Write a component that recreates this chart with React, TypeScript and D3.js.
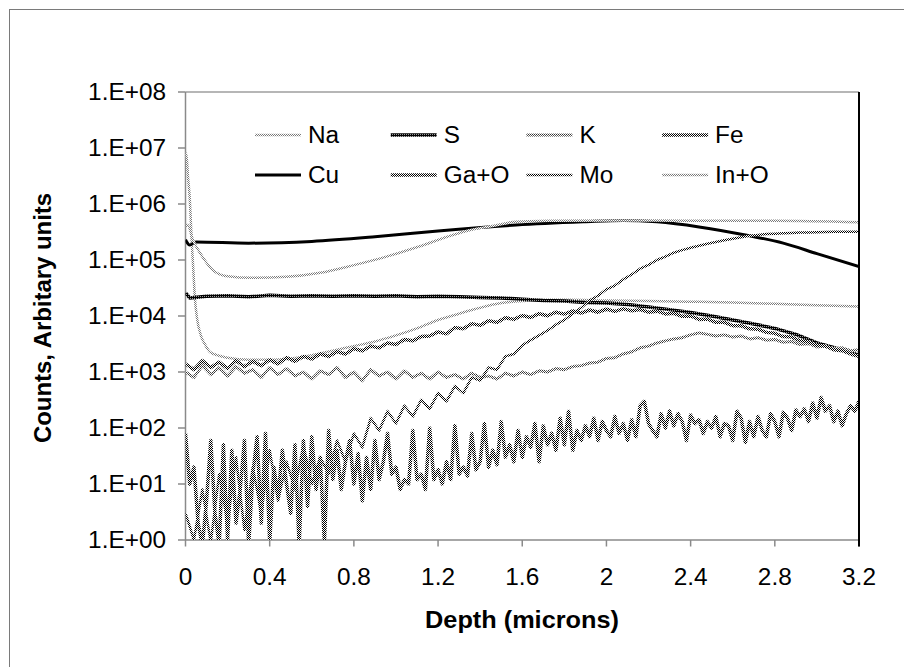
import React from 'react';
import * as d3 from 'd3';

// ---------- data ----------
const seriesNames = ['Na', 'S', 'K', 'Fe', 'Cu', 'Ga+O', 'Mo', 'In+O'];
const yTickValues = [1, 1e1, 1e2, 1e3, 1e4, 1e5, 1e6, 1e7, 1e8];
const yTickLabels = ['1.E+00', '1.E+01', '1.E+02', '1.E+03', '1.E+04', '1.E+05', '1.E+06', '1.E+07', '1.E+08'];
const xTickValues = [0, 0.4, 0.8, 1.2, 1.6, 2, 2.4, 2.8, 3.2];
const xTickLabels = ['0', '0.4', '0.8', '1.2', '1.6', '2', '2.4', '2.8', '3.2'];

const naDepth = [0, 0.004, 0.012, 0.02, 0.03, 0.036, 0.045, 0.055, 0.075, 0.095, 0.115, 0.15, 0.2, 0.3, 0.4, 0.5, 0.6, 0.7, 0.8, 0.9, 1.0, 1.1, 1.2, 1.3, 1.4, 1.5, 1.6, 1.7, 1.8, 2.0, 2.2, 2.4, 2.6, 2.8, 3.0, 3.2];
const naCounts = [7000000, 8000000, 3000000, 1300000, 200000, 80000, 20000, 9000, 4300, 3000, 2300, 2000, 1800, 1650, 1650, 1750, 2000, 2400, 2900, 3500, 4500, 6000, 8500, 11000, 14000, 17000, 18500, 19500, 19500, 19000, 18500, 18000, 17500, 16500, 15500, 14800];

const sDepth = [0, 0.02, 0.1, 0.2, 0.3, 0.4, 0.5, 0.6, 0.7, 0.8, 0.9, 1.0, 1.1, 1.2, 1.3, 1.4, 1.5, 1.6, 1.7, 1.8, 1.9, 2.0, 2.1, 2.2, 2.3, 2.4, 2.5, 2.6, 2.7, 2.8, 2.9, 3.0, 3.1, 3.2];
const sCounts = [26000, 21000, 22500, 23000, 22000, 23500, 22500, 23000, 22500, 23000, 22500, 23000, 22000, 22500, 22000, 21500, 21000, 20000, 19000, 18500, 17500, 17000, 16000, 14500, 13000, 11500, 10000, 8500, 7200, 6000, 4700, 3300, 2600, 2000];

const kStep = 0.04;
const kCounts = [
  1000, 800, 1300, 900, 1200, 850, 1250, 950, 1100, 800,
  1200, 900, 1150, 850, 1000, 750, 1050, 900, 1200, 800,
  1000, 700, 1100, 850, 1000, 750, 1050, 800, 950, 750,
  1000, 800, 900, 750, 950, 800, 850, 750, 950, 850,
  1000, 900, 1050, 1000, 1150, 1100, 1250, 1300, 1450, 1500,
  1750, 1800, 2100, 2300, 2700, 2900, 3300, 3600, 3900, 4100,
  4600, 5000, 4700, 4400, 4600, 4200, 4400, 3900, 4100, 3700,
  3800, 3400, 3500, 3100, 3200, 2800, 2900, 2600, 2700, 2400,
  2500,
];

const feStep = 0.02;
const feCounts = [
  80, 10, 20, 2, 0.8, 5, 60, 3, 0.8, 50,
  1, 40, 2, 8, 60, 0.8, 15, 70, 2, 80,
  0.9, 20, 6, 40, 10, 3, 50, 0.8, 60, 4,
  70, 8, 30, 0.9, 90, 12, 40, 8, 25, 60,
  10, 35, 5, 30, 8, 60, 12, 25, 80, 15,
  20, 8, 12, 10, 90, 12, 15, 8, 100, 12,
  18, 10, 25, 12, 110, 15, 20, 14, 80, 18,
  25, 120, 20, 40, 22, 130, 30, 50, 25, 90,
  30, 70, 45, 120, 25, 110, 50, 80, 40, 150,
  50, 200, 40, 90, 60, 110, 70, 150, 60, 130,
  90, 70, 160, 80, 120, 60, 140, 70, 250, 300,
  120, 90, 70, 180, 100, 200, 110, 180, 130, 60,
  170, 120, 140, 80, 130, 100, 160, 70, 120, 110,
  60, 200, 150, 55, 130, 70, 160, 90, 70, 180,
  130, 70, 190, 150, 90, 210, 160, 220, 130, 280,
  150, 350, 200, 250, 130, 200, 110, 180, 250, 200,
  300,
];

const cuDepth = [0, 0.02, 0.05, 0.3, 0.6, 0.9, 1.2, 1.57, 1.89, 2.08, 2.24, 2.44, 2.68, 2.84, 3.0, 3.2];
const cuCounts = [230000, 185000, 210000, 200000, 215000, 260000, 330000, 420000, 480000, 510000, 480000, 390000, 270000, 200000, 130000, 76000];

const gaStep = 0.04;
const gaCounts = [
  1400, 1100, 1600, 1200, 1500, 1150, 1600, 1250, 1550, 1300,
  1650, 1400, 1800, 1550, 1900, 1700, 2100, 1900, 2300, 2100,
  2600, 2400, 2900, 2700, 3300, 3100, 3800, 3600, 4300, 4400,
  5200, 4800, 6200, 5900, 7300, 6800, 8200, 7700, 9300, 8700,
  10200, 9400, 11000, 10100, 11700, 10800, 12300, 11300, 12800, 11700,
  13200, 12100, 13400, 12400, 13000, 11700, 12200, 10900, 11200, 9900,
  10000, 8700, 8800, 7700, 7700, 6700, 6700, 5900, 5800, 5100,
  4900, 4300, 4200, 3600, 3500, 3000, 2900, 2500, 2400, 2100,
  1900,
];

const moStep = 0.04;
const moCounts = [
  3, 1, 8, 0.9, 15, 2, 30, 1.5, 20, 3,
  40, 5, 25, 8, 50, 10, 30, 15, 60, 25,
  80, 45, 150, 90, 200, 120, 250, 160, 320, 220,
  420, 300, 560, 420, 800, 700, 1200, 1100, 1900, 2100,
  3000, 3700, 4500, 5500, 7000, 8500, 11000, 14000, 19000, 23000,
  30000, 35000, 45000, 55000, 70000, 82000, 100000, 115000, 135000, 150000,
  165000, 180000, 195000, 210000, 225000, 240000, 255000, 270000, 280000, 290000,
  295000, 300000, 305000, 310000, 310000, 312000, 315000, 318000, 320000, 320000,
  320000,
];

const inDepth = [0, 0.01, 0.035, 0.08, 0.13, 0.19, 0.32, 0.48, 0.64, 0.8, 0.955, 1.11, 1.27, 1.35, 1.45, 1.57, 1.73, 2.05, 2.4, 2.8, 3.2];
const inCounts = [400000, 420000, 230000, 115000, 66000, 52000, 48000, 50000, 59000, 81000, 115000, 174000, 280000, 340000, 400000, 480000, 500000, 510000, 500000, 500000, 470000];

// ---------- layout ----------
const W = 904;
const H = 667;
const L = 185.5;
const R = 859;
const T = 92;
const B = 540;
const FONT = "'Liberation Sans', Arial, Helvetica, sans-serif";

type Pt = [number, number];
const zipD = (ds: number[], vs: number[]): Pt[] => ds.map((d, i) => [d, vs[i]]);
const zipStep = (step: number, vs: number[]): Pt[] => vs.map((v, i) => [i * step, v]);

const seriesData: Record<string, Pt[]> = {
  Na: zipD(naDepth, naCounts),
  S: zipD(sDepth, sCounts),
  K: zipStep(kStep, kCounts),
  Fe: zipStep(feStep, feCounts),
  Cu: zipD(cuDepth, cuCounts),
  'Ga+O': zipStep(gaStep, gaCounts),
  Mo: zipStep(moStep, moCounts),
  'In+O': zipD(inDepth, inCounts),
};

const style: Record<string, { stroke: string; width: number; smooth: boolean }> = {
  Na: { stroke: 'url(#pLight)', width: 2.5, smooth: true },
  S: { stroke: 'url(#pDark)', width: 3.5, smooth: false },
  K: { stroke: 'url(#pLightMid)', width: 3, smooth: false },
  Fe: { stroke: 'url(#pMid)', width: 3.5, smooth: false },
  Cu: { stroke: '#000000', width: 3, smooth: true },
  'Ga+O': { stroke: 'url(#pMid)', width: 3.5, smooth: false },
  Mo: { stroke: 'url(#pMid)', width: 2.5, smooth: false },
  'In+O': { stroke: 'url(#pLight)', width: 2.5, smooth: true },
};

const Txt = ({ x, y, anchor = 'start', size = 23, bold = false, sx = 1.06, rotate = 0, children }: any) => (
  <text
    transform={`translate(${x},${y})${rotate ? ` rotate(${rotate})` : ''} scale(${sx},1)`}
    textAnchor={anchor}
    fontSize={size}
    fontWeight={bold ? 'bold' : 'normal'}
    fontFamily={FONT}
    fill="#000"
  >
    {children}
  </text>
);

export default function App() {
  const x = d3.scaleLinear().domain([0, 3.2]).range([L, R]);
  const y = d3.scaleLog().domain([1, 1e8]).range([B, T]);

  const mk = (smooth: boolean) =>
    d3
      .line<Pt>()
      .x((d) => x(d[0]))
      .y((d) => y(Math.max(d[1], 0.2)))
      .curve(smooth ? d3.curveMonotoneX : d3.curveLinear);

  const axisGray = '#8a8a8a';

  return (
    <svg width={W} height={H} style={{ position: 'absolute', left: 0, top: 0, background: '#fff' }}>
      <defs>
        <pattern id="pMid" width="2" height="2" patternUnits="userSpaceOnUse">
          <rect width="2" height="2" fill="#ffffff" />
          <rect x="0" y="0" width="1" height="1" fill="#000" />
          <rect x="1" y="1" width="1" height="1" fill="#000" />
        </pattern>
        <pattern id="pDark" width="2" height="2" patternUnits="userSpaceOnUse">
          <rect width="2" height="2" fill="#000" />
          <rect x="0" y="0" width="1" height="1" fill="#9a9a9a" />
        </pattern>
        <pattern id="pLight" width="2" height="2" patternUnits="userSpaceOnUse">
          <rect width="2" height="2" fill="#ffffff" />
          <rect x="0" y="0" width="1" height="1" fill="#7a7a7a" />
          <rect x="1" y="1" width="1" height="1" fill="#7a7a7a" />
        </pattern>
        <pattern id="pLightMid" width="2" height="2" patternUnits="userSpaceOnUse">
          <rect width="2" height="2" fill="#ffffff" />
          <rect x="0" y="0" width="1" height="1" fill="#333" />
          <rect x="1" y="1" width="1" height="1" fill="#555" />
        </pattern>
        <clipPath id="plotClip">
          <rect x={L} y={T} width={R - L} height={B - T} />
        </clipPath>
      </defs>

      <rect x={0} y={0} width={W} height={H} fill="#fff" />
      {/* outer chart frame */}
      <rect x={9.5} y={9.5} width={W + 10} height={H + 10} fill="none" stroke="#7a7a7a" strokeWidth={1} />

      {/* plot area border */}
      <line x1={L} y1={T} x2={R} y2={T} stroke="#6e6e6e" strokeWidth={1.2} />
      <line x1={L} y1={T} x2={L} y2={B} stroke={axisGray} strokeWidth={1.5} />
      <line x1={L} y1={B} x2={R} y2={B} stroke={axisGray} strokeWidth={1.5} />

      {/* y ticks */}
      {yTickValues.map((v, i) => (
        <g key={`yt${i}`}>
          <line x1={L - 7.5} x2={L} y1={y(v)} y2={y(v)} stroke={axisGray} strokeWidth={1.5} />
          <Txt x={166} y={y(v) + 8} anchor="end">{yTickLabels[i]}</Txt>
        </g>
      ))}

      {/* x ticks */}
      {xTickValues.map((v, i) => (
        <g key={`xt${i}`}>
          <line x1={x(v)} x2={x(v)} y1={B} y2={B + 6.5} stroke={axisGray} strokeWidth={1.5} />
          <Txt x={x(v)} y={585} anchor="middle">{xTickLabels[i]}</Txt>
        </g>
      ))}

      {/* series */}
      <g clipPath="url(#plotClip)">
        {seriesNames.map((n) => (
          <path
            key={n}
            d={mk(style[n].smooth)(seriesData[n]) || ''}
            fill="none"
            stroke={style[n].stroke}
            strokeWidth={style[n].width}
            strokeLinejoin="round"
          />
        ))}
      </g>

      {/* right border (drawn over) */}
      <line x1={R} y1={T} x2={R} y2={B + 6.5} stroke="#000" strokeWidth={2} />

      {/* legend */}
      {seriesNames.map((n, i) => {
        const col = i % 4;
        const row = Math.floor(i / 4);
        const lx = 255 + col * 135.7;
        const ly = 135 + row * 40;
        return (
          <g key={`lg${n}`}>
            <line x1={lx} x2={lx + 46} y1={ly} y2={ly} stroke={style[n].stroke} strokeWidth={style[n].width} />
            <Txt x={lx + 53} y={ly + 8.3}>{n}</Txt>
          </g>
        );
      })}

      {/* axis titles */}
      <Txt x={522} y={628} anchor="middle" bold size={23} sx={1.1}>Depth (microns)</Txt>
      <Txt x={51} y={318} anchor="middle" bold size={23} sx={1.04} rotate={-90}>Counts, Arbitary units</Txt>
    </svg>
  );
}
